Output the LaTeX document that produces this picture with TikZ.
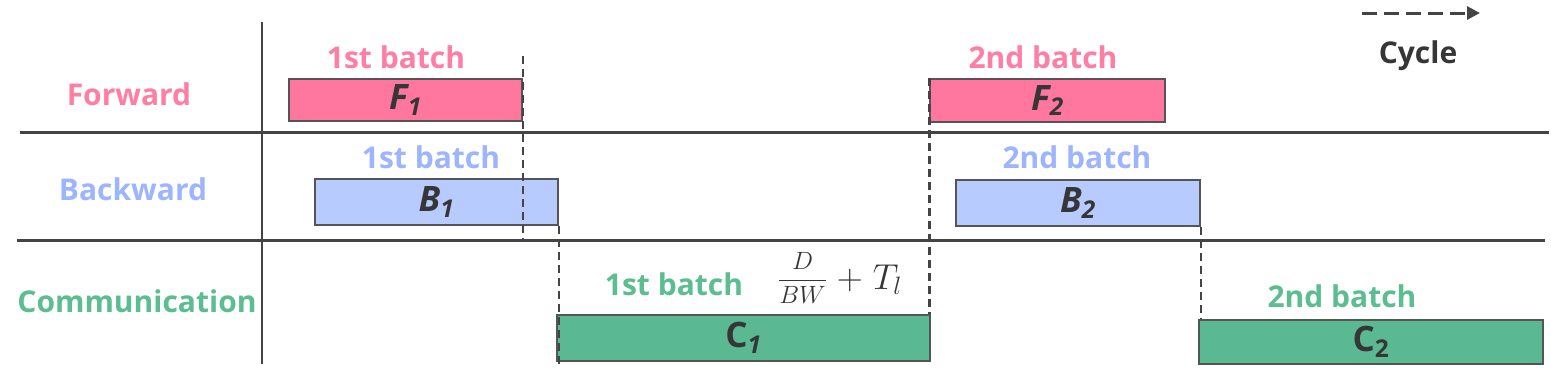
\RequirePackage{fix-cm}
\documentclass[tikz,border=0pt]{standalone}
\usepackage{fontspec}
\usepackage{amsmath}
\setmainfont{Open Sans}
\usetikzlibrary{arrows.meta,calc}
\definecolor{pinkbox}{HTML}{FF779F}
\definecolor{pinktext}{HTML}{FF7EA3}
\definecolor{bluebox}{HTML}{B8CBFF}
\definecolor{bluetext}{HTML}{9DB5FF}
\definecolor{greenbox}{HTML}{5AB893}
\definecolor{greentext}{HTML}{5CBD91}
\definecolor{darktext}{HTML}{363636}
\definecolor{edgegray}{HTML}{555555}
\definecolor{laneline}{HTML}{444444}
\tikzset{
  lane/.style={draw=laneline, line width=3pt},
  axisline/.style={draw=laneline, line width=1.2pt},
  vdash/.style={draw=laneline, line width=2.5pt, dash pattern=on 8pt off 5pt},
  cyclearrow/.style={draw=laneline, line width=3pt, dash pattern=on 15pt off 7pt, -{Triangle[length=13pt,width=13pt]}},
  task/.style={draw=edgegray, line width=1.5pt, inner sep=0pt, font=\fontsize{35}{40}\selectfont\bfseries, text=darktext},
  rowlabel/.style={font=\fontsize{30}{36}\selectfont\bfseries, anchor=base, inner sep=0pt},
  batchlabel/.style={font=\fontsize{30}{36}\selectfont\bfseries, anchor=base, inner sep=0pt},
}
\begin{document}
\begin{tikzpicture}[x=1pt,y=-1pt]
\useasboundingbox (0,0) rectangle (1551,381);

% lanes
\coordinate (L1w) at (20,132); \coordinate (L1e) at (1549,132);
\coordinate (L2w) at (17,240); \coordinate (L2e) at (1545,240);
\coordinate (Vt) at (262,22); \coordinate (Vb) at (262,364);
\draw[lane] (L1w) -- (L1e);
\draw[lane] (L2w) -- (L2e);
\draw[axisline] (Vt) -- (Vb);

% row labels
\node[rowlabel, text=pinktext] (rowF) at (129,105) {Forward};
\node[rowlabel, text=bluetext] (rowB) at (133,200) {Backward};
\node[rowlabel, text=greentext] (rowC) at (137,312) {Communication};

% task boxes
\node[task, fill=pinkbox, minimum width=233, minimum height=42] (F1) at (405.5,100) {\itshape F\textsubscript{1}};
\node[task, fill=bluebox, minimum width=243, minimum height=46] (B1) at (436.5,202) {\itshape B\textsubscript{1}};
\node[task, fill=greenbox, minimum width=373, minimum height=46] (C1) at (743.5,338) {C\textsubscript{\itshape 1}};
\node[task, fill=pinkbox, minimum width=235, minimum height=43] (F2) at (1047.5,100.5) {\itshape F\textsubscript{2}};
\node[task, fill=bluebox, minimum width=244, minimum height=46] (B2) at (1078,203) {\itshape B\textsubscript{2}};
\node[task, fill=greenbox, minimum width=344, minimum height=44] (C2) at (1371,342) {C\textsubscript{2}};

% batch labels
\node[batchlabel, text=pinktext] (bF1) at (396,68) {1st batch};
\node[batchlabel, text=bluetext] (bB1) at (431,168) {1st batch};
\node[batchlabel, text=greentext] (bC1) at (674,295) {1st batch};
\node[batchlabel, text=pinktext] (bF2) at (1043,68) {2nd batch};
\node[batchlabel, text=bluetext] (bB2) at (1077,168) {2nd batch};
\node[batchlabel, text=greentext] (bC2) at (1342,307) {2nd batch};

% formula
\node[inner sep=0pt, text=darktext] (eq) at (840,278)
  {\raisebox{2.8pt}{\fontsize{25}{30}\selectfont$\dfrac{D}{BW}$}\fontsize{36}{42}\selectfont$\;+\;T_l$};

% dashed sync lines
\coordinate (d1top) at (523,56);
\draw[vdash] (d1top) -- (d1top |- L2w);
\draw[vdash] (B1.south east) -- ($(B1.south east |- C1.south west)+(0,3)$);
\draw[vdash] (F2.north west) -- (F2.north west |- C1.north east);
\draw[vdash] (B2.south east) -- (B2.south east |- C2.north west);

% cycle legend
\coordinate (cyA) at (1362,13); \coordinate (cyB) at (1480,13);
\draw[cyclearrow] (cyA) -- (cyB);
\node[batchlabel, text=darktext] (cycle) at (1418,63) {Cycle};
\end{tikzpicture}
\end{document}
